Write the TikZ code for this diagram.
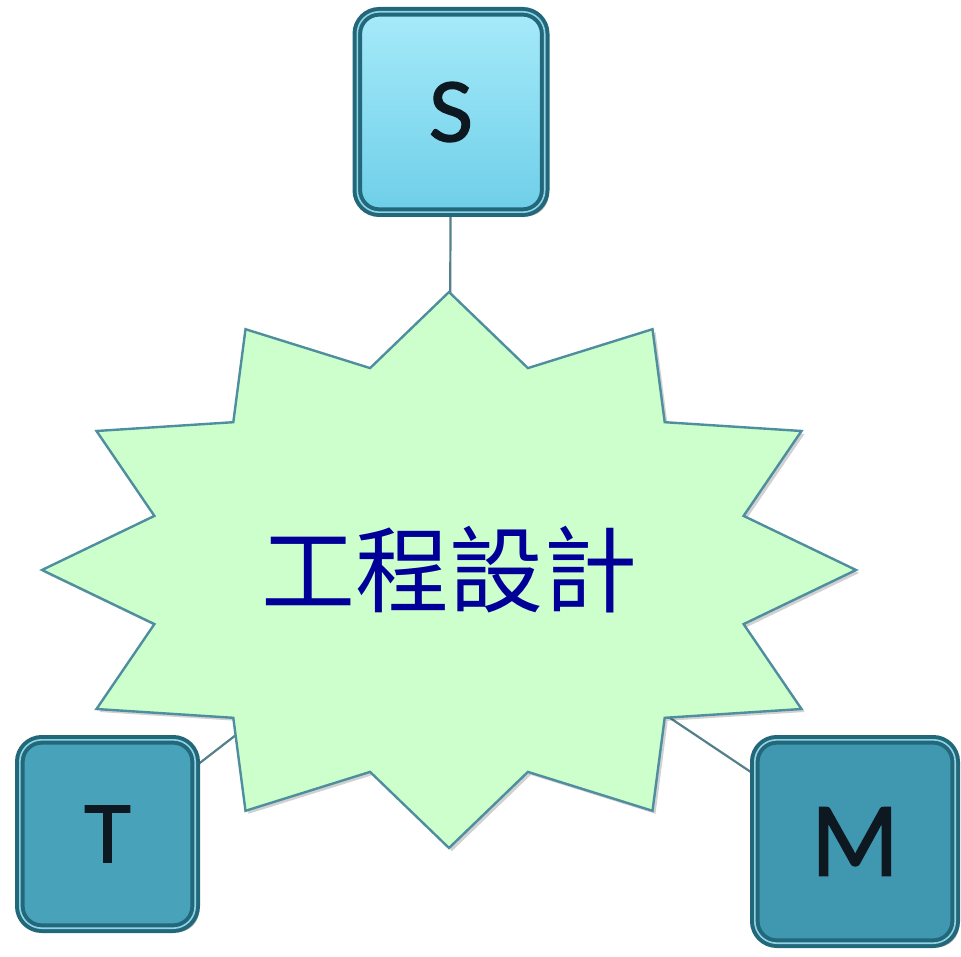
\documentclass[tikz,border=0pt]{standalone}
\usepackage{fontspec}
\setmainfont{Lato}
\newfontfamily\keyfont{Lato}[FakeBold=1.6]
\newfontfamily\cjkfont{Noto Sans CJK TC}
\usetikzlibrary{shadows}
\definecolor{starfill}{HTML}{CCFFCC}
\definecolor{staredge}{HTML}{4E8E9E}
\definecolor{linkcol}{HTML}{557F8A}
\definecolor{titleblue}{HTML}{000099}
\definecolor{sTop}{HTML}{A6EAFA}
\definecolor{sBot}{HTML}{6ECFE8}
\definecolor{boxedge}{HTML}{23687A}
\definecolor{boxhi}{HTML}{8ED4E4}
\definecolor{tfill}{HTML}{48A2BA}
\definecolor{mfill}{HTML}{3F98B0}
\definecolor{lettercol}{HTML}{0E1820}
\pgfdeclarelayer{background}
\pgfsetlayers{background,main}
\tikzset{
  keybox/.style={rounded corners=22pt, draw=boxedge, line width=4pt,
    double=boxhi, double distance=1.6pt, text=lettercol,
    drop shadow={shadow xshift=4pt, shadow yshift=-4pt, opacity=0.3, fill=black}},
  link/.style={draw=linkcol, line width=2.2pt},
  starshape/.style={draw=staredge, fill=starfill, line width=2.4pt, line join=miter,
    drop shadow={shadow xshift=3pt, shadow yshift=-3pt, opacity=0.18, fill=black}},
}
\begin{document}
\begin{tikzpicture}[x=1pt,y=-1pt]
\useasboundingbox (0,0) rectangle (961,957);
\coordinate (c) at (449,570);
\node[keybox, top color=sTop, bottom color=sBot, minimum width=187.4pt, minimum height=200.4pt,
  font=\keyfont\fontsize{82}{82}\selectfont] (S) at (451,112) {S};
\node[keybox, fill=tfill, minimum width=175.4pt, minimum height=188.4pt,
  font=\keyfont\fontsize{79}{79}\selectfont] (T) at (107.5,834) {T};
\node[keybox, fill=mfill, minimum width=200.4pt, minimum height=203.4pt,
  font=\keyfont\fontsize{95}{95}\selectfont] (M) at (855,841.5) {M};
\begin{pgfonlayer}{background}
  \draw[link] (S) -- (c);
  \draw[link] (T) -- (c);
  \draw[link] (M) -- (c);
\end{pgfonlayer}
\path[starshape] (449,292) -- (527.9,368.1) -- (652.5,329.2) -- (664.7,422.2)
  -- (801.5,431) -- (743.6,515.9) -- (856,570) -- (743.6,624.1)
  -- (801.5,709) -- (664.7,717.8) -- (652.5,810.8) -- (527.9,771.9)
  -- (449,848) -- (370.1,771.9) -- (245.5,810.8) -- (233.3,717.8)
  -- (96.5,709) -- (154.4,624.1) -- (42,570) -- (154.4,515.9)
  -- (96.5,431) -- (233.3,422.2) -- (245.5,329.2) -- (370.1,368.1) -- cycle;
\node[font=\cjkfont\fontsize{94}{94}\selectfont, text=titleblue, inner sep=0pt] (title) at (c) {工程設計};
\end{tikzpicture}
\end{document}
